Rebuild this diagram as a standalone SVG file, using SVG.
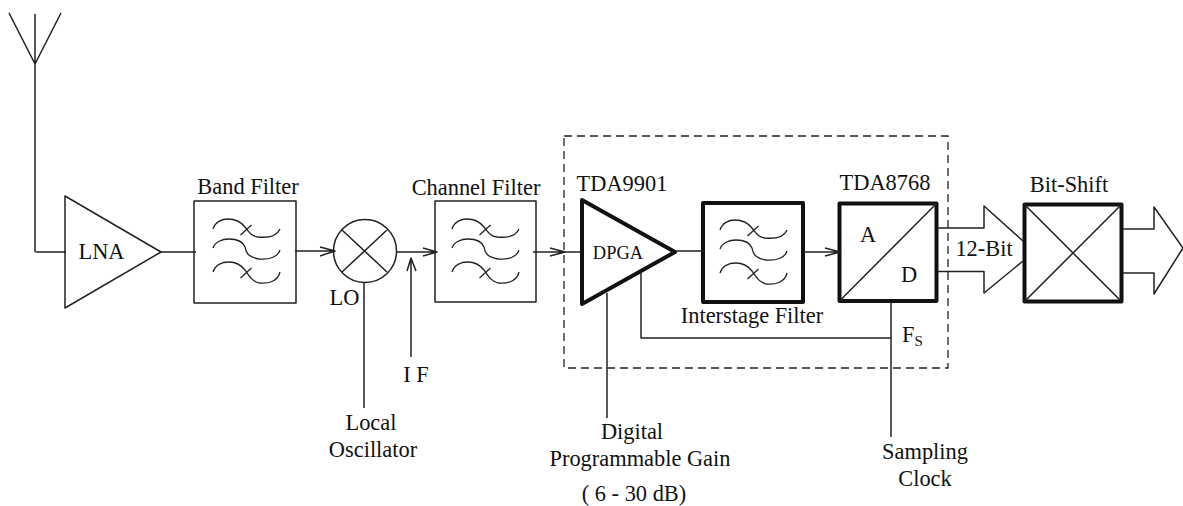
<svg xmlns="http://www.w3.org/2000/svg" width="1183" height="506" viewBox="0 0 1183 506">
<style>
text{font-family:"Liberation Serif","Times New Roman",serif;font-size:22.4px;fill:#111;text-anchor:middle}
.l{fill:none;stroke:#222;stroke-width:1.5;stroke-linejoin:round}
.t{fill:none;stroke:#111;stroke-width:4;stroke-linejoin:round}
.f{fill:none;stroke:#222;stroke-width:1.3}
</style>
<defs>
<g id="filt">
<path class="f" d="M0 10C2 3 9 0 15 0C22 0 28 3 32 8C36 13 38 17 45 18C55 19 64 17 67 10"/>
<path class="f" d="M27.500 16L38.500 6"/>
<path class="f" d="M0 29C2 23 9 20 16 20C24 20 30 23 32 28C33 34 35 38 46 40C56 41 65 38 67 31"/>
<path class="f" d="M0 53C2 46 9 43 16 43C23 43 28 46 32 51C36 57 39 62 46 64C56 65 65 62 67 53"/>
<path class="f" d="M27.500 59L38.500 49"/>
</g>
</defs>
<g id="antenna"><path class="l" d="M9 13L35 64L61 13M35 14V252"/></g>
<g id="lna"><path class="l" d="M65 196L161 252L65 308Z"/><text x="101.500" y="259">LNA</text></g>
<g id="band-filter"><rect class="l" x="194" y="201" width="102" height="102"/><use href="#filt" x="213" y="219"/><text x="248" y="194">Band Filter</text></g>
<g id="mixer"><circle class="l" cx="365" cy="251" r="31.500"/><path class="l" d="M342 230L387 272M387 230L342 272"/><text x="344.500" y="305">LO</text></g>
<g id="channel-filter"><rect class="l" x="435" y="201" width="101" height="101"/><use href="#filt" x="452" y="219"/><text x="476" y="195">Channel Filter</text></g>
<g id="dpga"><path class="t" d="M582 200L675 252L582 304Z"/><text x="618" y="259" style="font-size:18.500px">DPGA</text><text x="622" y="191">TDA9901</text></g>
<g id="interstage-filter"><rect class="t" x="703" y="203" width="100" height="99"/><use href="#filt" x="720" y="220"/><text x="752" y="323">Interstage Filter</text></g>
<g id="adc"><rect class="t" x="839.500" y="203.500" width="97" height="97.500"/><path class="l" d="M839.500 301L936.500 203.500"/><text x="868" y="242">A</text><text x="909" y="282">D</text><text x="885" y="190">TDA8768</text></g>
<g id="bit-shift"><rect class="t" x="1024.500" y="204.500" width="97" height="97"/><path class="l" d="M1024.500 204.500L1121.500 301.500M1121.500 204.500L1024.500 301.500"/><text x="1069" y="192">Bit-Shift</text></g>
<g id="connectors">
<path class="l" d="M35.500 252H66M161 252H196M295 251H335M320 247L335 251L320 256M397 252H437M423 248L437 252L423 256M411 357V258M407 271L411 258L416 271M364 282V408M533 252H581M550 248L565 252L550 256M675 251H705M804 252H840M825 248L840 252L825 256"/>
<path class="l" d="M641 273V338H891M891 302V437M607 293V418"/>
<path class="l" d="M938 228H984V206L1023 241M938 271.500H984V293L1023 261"/>
<path class="l" d="M1123 229H1154V207L1183 248L1154 294V273H1123"/>
<rect x="564" y="136" width="384" height="232" fill="none" stroke="#222" stroke-width="1.300" stroke-dasharray="8 5"/>
</g>
<g id="labels">
<text x="416" y="382">I F</text>
<text x="371" y="430">Local</text><text x="373" y="457">Oscillator</text>
<text x="632" y="439">Digital</text><text x="640" y="466">Programmable Gain</text><text x="634" y="501">( 6 - 30 dB)</text>
<text x="984" y="256">12-Bit</text>
<text x="902" y="342" style="text-anchor:start">F<tspan dy="4" style="font-size:15px">S</tspan></text>
<text x="925" y="459">Sampling</text><text x="925" y="486">Clock</text>
</g>
</svg>
